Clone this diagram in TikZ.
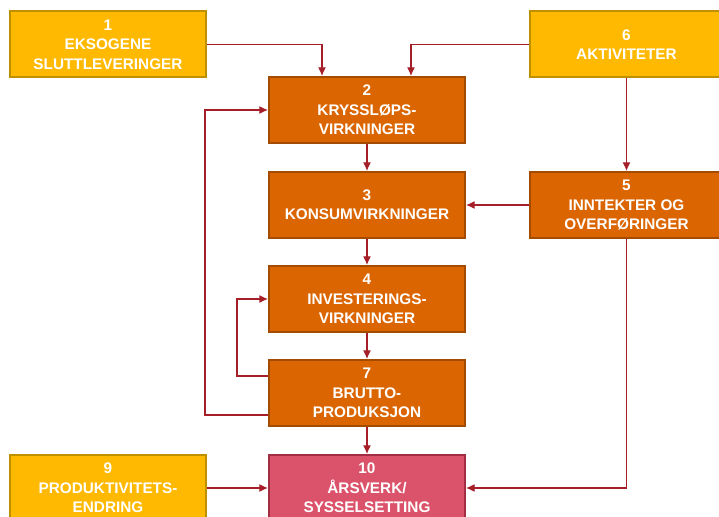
\documentclass[tikz,border=0pt]{standalone}
\usepackage{fontspec}
\setmainfont{Liberation Sans}
\usetikzlibrary{arrows.meta}

\definecolor{gulfyll}{RGB}{255,185,0}
\definecolor{gulkant}{RGB}{191,144,0}
\definecolor{orfyll}{RGB}{219,101,0}
\definecolor{orkant}{RGB}{163,75,0}
\definecolor{rosafyll}{RGB}{219,83,106}
\definecolor{rosakant}{RGB}{163,45,66}
\definecolor{pilfarge}{RGB}{165,30,40}

\tikzset{every picture/.style={line width=0.75pt}}
\tikzset{
  boks/.style={line width=1.5pt, text=white, font=\bfseries\fontsize{11.5}{14.5}\selectfont,
    align=center, minimum height=49.5pt, inner sep=0pt},
  gulboks/.style={boks, fill=gulfyll, draw=gulkant, minimum width=147pt},
  orboks/.style={boks, fill=orfyll, draw=orkant, minimum width=147pt},
  bredboks/.style={boks, fill=orfyll, draw=orkant, minimum width=145pt},
  rosaboks/.style={boks, fill=rosafyll, draw=rosakant, minimum width=147pt},
  pil/.style={draw=pilfarge, line width=0.9pt, -{Latex[length=6.5pt,width=6pt]}}
}

\begin{document}
\begin{tikzpicture}[x=0.75pt,y=0.75pt,yscale=-1,xscale=1]
		\useasboundingbox (0,0) rectangle (719,517);

		\draw (108,44.5) node [gulboks] (b1) {1\\EKSOGENE\\SLUTTLEVERINGER};
		\draw (626.5,44.5) node [gulboks, minimum width=145pt] (b6) {6\\AKTIVITETER};
		\draw (367,110) node [orboks] (b2) {2\\KRYSSLØPS-\\VIRKNINGER};
		\draw (367,205) node [orboks] (b3) {3\\KONSUMVIRKNINGER};
		\draw (626.5,205) node [bredboks] (b5) {5\\INNTEKTER OG\\OVERFØRINGER};
		\draw (367,299) node [orboks] (b4) {4\\INVESTERINGS-\\VIRKNINGER};
		\draw (367,393) node [orboks] (b7) {7\\BRUTTO-\\PRODUKSJON};
		\draw (108,488) node [gulboks] (b9) {9\\PRODUKTIVITETS-\\ENDRING};
		\draw (367,488) node [rosaboks] (b10) {10\\ÅRSVERK/\\SYSSELSETTING};

		\draw [pil] (b1.east) -| ([xshift=-33.75pt]b2.north);
		\draw [pil] (b6.west) -| ([xshift=33pt]b2.north);
		\draw [pil] (b6) -- (b5);
		\draw [pil] (b5) -- (b3);
		\draw [pil] (b2) -- (b3);
		\draw [pil] (b3) -- (b4);
		\draw [pil] (b4) -- (b7);
		\draw [pil] (b7) -- (b10);
		% tilbakekoblinger
		\draw [pil] ([yshift=16.5pt]b7.west) -- ++(-63,0) |- (b2.west);
		\draw [pil] ([yshift=-12.75pt]b7.west) -- ++(-31,0) |- (b4.west);
		\draw [pil] (b5.south) |- (b10.east);
		\draw [pil] (b9) -- (b10);

		\end{tikzpicture}
\end{document}
